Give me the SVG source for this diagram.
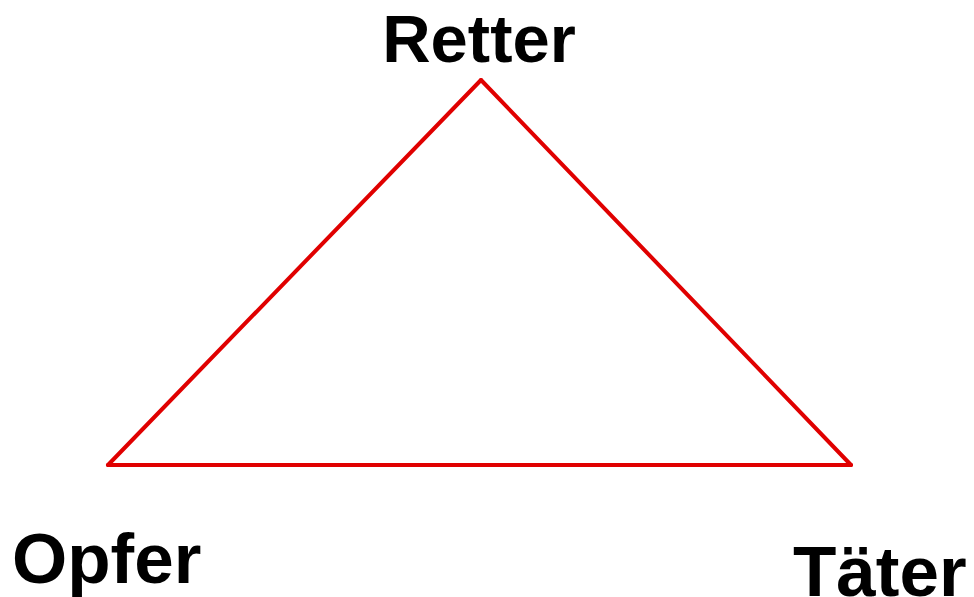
<svg xmlns="http://www.w3.org/2000/svg" width="974" height="597" viewBox="0 0 974 597">
<style>
.lbl{font-family:"Liberation Sans",Arial,sans-serif;font-weight:bold;fill:#000}
.edge{fill:none;stroke:#e00000;stroke-width:4;stroke-linecap:round;stroke-linejoin:round}
</style>
<rect width="974" height="597" fill="#fff"/>
<g id="connectors">
<path class="edge" d="M481,80 L851,465"/>
<path class="edge" d="M851,465 L108,465"/>
<path class="edge" d="M108,465 L481,80"/>
</g>
<g id="retter"><text class="lbl" x="479" y="62" font-size="67" text-anchor="middle">Retter</text></g>
<g id="opfer"><text class="lbl" x="12" y="583" font-size="71">Opfer</text></g>
<g id="taeter"><text class="lbl" x="793" y="596" font-size="71">Täter</text></g>
</svg>
